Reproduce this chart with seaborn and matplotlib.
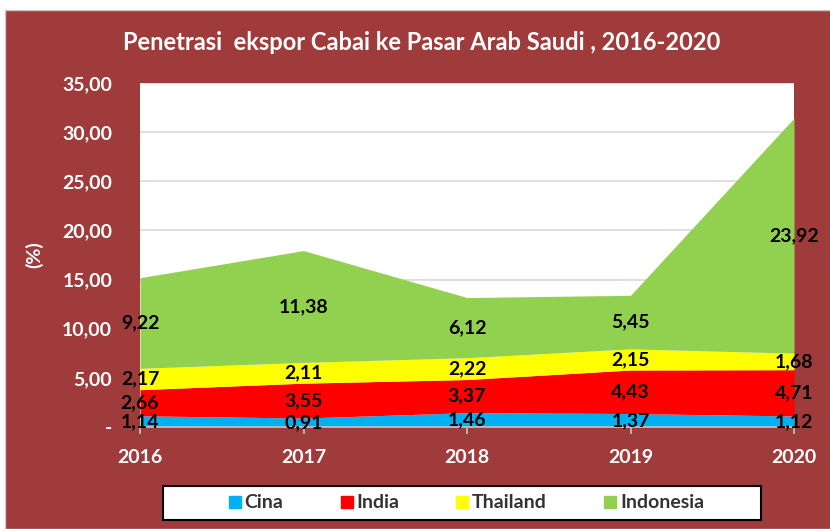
import matplotlib.pyplot as plt
import seaborn as sns
import pandas as pd
from matplotlib.patches import Rectangle
from matplotlib.lines import Line2D

# Data
tahun = [2016, 2017, 2018, 2019, 2020]
negara = ['Cina', 'India', 'Thailand', 'Indonesia']
cina = [1.14, 0.91, 1.46, 1.37, 1.12]
india = [2.66, 3.55, 3.37, 4.43, 4.71]
thailand = [2.17, 2.11, 2.22, 2.15, 1.68]
indonesia = [9.22, 11.38, 6.12, 5.45, 23.92]
warna = ['#00B0F0', '#FF0000', '#FFFF00', '#92D050']
yticks = [0, 5, 10, 15, 20, 25, 30, 35]

df = pd.DataFrame({'Cina': cina, 'India': india, 'Thailand': thailand,
                   'Indonesia': indonesia}, index=tahun)

sns.set_theme(style='whitegrid')
plt.rcParams['font.family'] = ['Lato', 'DejaVu Sans']

bg = '#9F3C3B'
fig = plt.figure(figsize=(8.3, 5.29), dpi=100, facecolor='white')
# panel merah di belakang
fig.patches.append(Rectangle((5 / 830, 0), 1, 1 - 10 / 529,
                             transform=fig.transFigure, facecolor=bg,
                             edgecolor='#C9C9C9', lw=1, zorder=-2))
# kotak legenda
fig.patches.append(Rectangle((163 / 830, 1 - 520 / 529), 598 / 830, 34 / 529,
                             transform=fig.transFigure, facecolor='white',
                             edgecolor='black', lw=1.5, zorder=-1))

ax = fig.add_axes([140 / 830, 1 - 427 / 529, 654 / 830, 344 / 529])
ax.set_facecolor('white')
ax.stackplot(df.index, [df[n] for n in negara], colors=warna, labels=negara,
             linewidth=0, zorder=2)

# label nilai di tengah tiap lapisan
bawah = [0.0] * len(tahun)
for n in negara:
    for i, th in enumerate(tahun):
        v = df[n].iloc[i]
        ax.text(th, bawah[i] + v / 2, f'{v:.2f}'.replace('.', ','),
                ha='center', va='center', fontsize=14, fontweight='bold',
                color='black', zorder=5, clip_on=False)
        bawah[i] += v

ax.set_xlim(2016, 2020)
ax.set_ylim(0, 35)
ax.set_xticks(tahun)
ax.set_xticklabels([str(t) for t in tahun])
ax.set_yticks(yticks)
ax.set_yticklabels(['-' if t == 0 else f'{t:.2f}'.replace('.', ',') for t in yticks])
ax.grid(axis='y', color='#D9D9D9', lw=1.2, zorder=1)
ax.grid(axis='x', visible=False)
for s in ['top', 'right', 'left']:
    ax.spines[s].set_visible(False)
ax.spines['bottom'].set_color('#BFBFBF')
ax.spines['bottom'].set_zorder(3)
ax.tick_params(axis='x', colors='white', labelsize=14, pad=11, length=5,
               direction='out', bottom=True, color='#BFBFBF')
ax.tick_params(axis='y', colors='white', labelsize=14, pad=20, length=0)
for lb in ax.get_xticklabels() + ax.get_yticklabels():
    lb.set_fontweight('bold')
ax.set_ylabel('(%)', color='white', fontsize=14, fontweight='bold', labelpad=14)

fig.text(422 / 830, 1 - 42 / 529,
         'Penetrasi  ekspor Cabai ke Pasar Arab Saudi , 2016-2020',
         ha='center', va='center', color='white', fontsize=17, fontweight='bold')

handles = [Line2D([], [], marker='s', ls='', markersize=9, color=c) for c in warna]
leg = fig.legend(handles, negara, loc='center',
                 bbox_to_anchor=(466 / 830, 1 - 503 / 529),
                 ncol=4, frameon=False, handlelength=0.7,
                 handletextpad=0.15, columnspacing=2.9,
                 prop={'weight': 'bold', 'size': 14})
for t in leg.get_texts():
    t.set_color('#333333')

fig.savefig('out.png', dpi=100, facecolor=fig.get_facecolor())
